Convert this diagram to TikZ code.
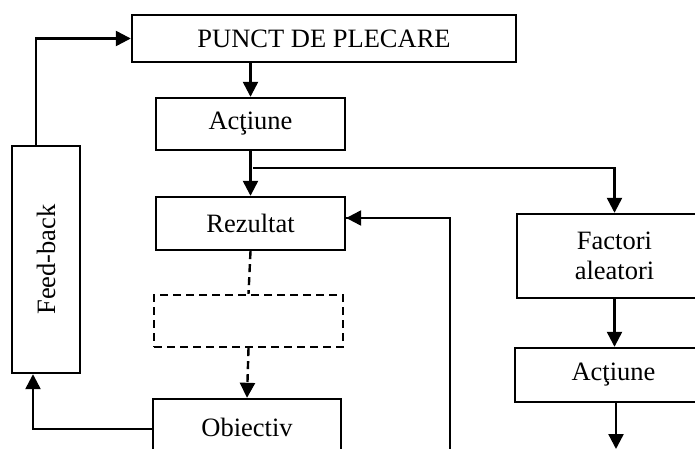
\documentclass[tikz,border=0pt]{standalone}
\usepackage{fontspec}
\setmainfont{Liberation Serif}
\usetikzlibrary{arrows.meta}
\begin{document}
\begin{tikzpicture}[x=1pt,y=-1pt,
  box/.style={draw, line width=2.4pt, inner sep=0pt, align=center,
    font=\fontsize{26.5}{30}\selectfont},
  conn/.style={line width=2.4pt},
  arr/.style={conn, -{Triangle[length=15pt,width=15pt]}},
  dsh/.style={dash pattern=on 8pt off 5pt}]
\useasboundingbox (0,0) rectangle (695,449);
\clip (0,0) rectangle (695,449);
\fill[white] (0,0) rectangle (695,449);
\node[box, minimum width=384pt, minimum height=47pt] (punct) at (324,38.5) {PUNCT DE PLECARE};
\node[box, minimum width=189pt, minimum height=52pt] (act1) at (250.5,124) {Acţiune};
\node[box, minimum width=189pt, minimum height=53pt] (rez) at (250.5,223.5) {Rezultat};
\node[box, dsh, minimum width=189pt, minimum height=52pt] (gol) at (248.5,321) {};
\node[box, minimum width=188pt, minimum height=60pt] (obj) at (247,429) {\raisebox{3pt}{Obiectiv}};
\node[box, minimum width=68pt, minimum height=227pt] (feed) at (46,259.5) {\rotatebox{90}{Feed-back}};
\node[box, minimum width=195pt, minimum height=84pt] (fact) at (614.5,256) {Factori\\aleatori};
\node[box, minimum width=197pt, minimum height=54pt] (act2) at (613.5,375) {Acţiune};
\coordinate (br) at (253,168);
\coordinate (ret) at (450,452);
\coordinate (out) at (616,449);
\draw[arr] (act1.north |- punct.south) -- (act1.north);
\draw[arr] (act1.south) -- (rez.north);
\draw[arr] (br) -| (fact.north);
\draw[conn] (ret) |- ([yshift=5.5pt]rez.east) coordinate (rezin);
\draw[arr] (rezin -| ret) -- ([yshift=5.5pt]rez.east);
\draw[conn, dsh] (rez.south) -- (gol.north);
\draw[arr, dsh] (gol.south) -- (obj.north);
\draw[arr] (obj.west) -| ([xshift=-13pt]feed.south);
\draw[arr] ([xshift=-10pt]feed.north) |- (punct.west);
\draw[arr] (fact.south) -- (fact.south |- act2.north);
\draw[arr] (act2.south -| out) -- (out);
\end{tikzpicture}
\end{document}
